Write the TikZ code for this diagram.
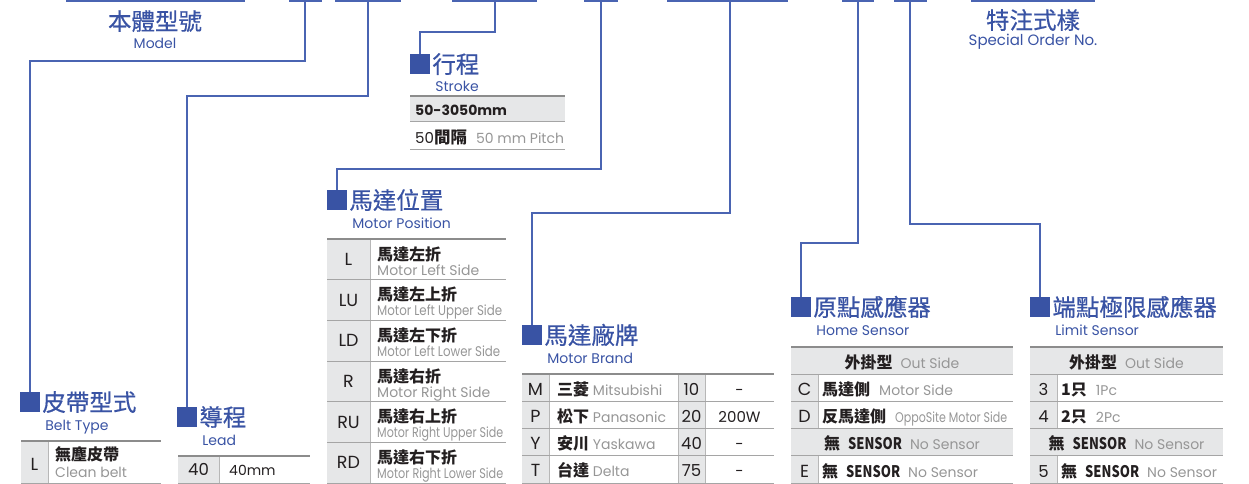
\documentclass[tikz,border=0pt]{standalone}
\usepackage{fontspec}
\usepackage{graphicx}
\setmainfont{Poppins}
\newfontfamily\cjk{Noto Sans CJK TC}
\newfontfamily\cjkmid[FakeBold=0.6]{Noto Sans CJK TC}
\usetikzlibrary{positioning}

\definecolor{titleblue}{RGB}{57,83,164}
\definecolor{linkblue}{RGB}{74,100,178}
\definecolor{cellgray}{RGB}{230,231,232}
\definecolor{rulegray}{RGB}{165,165,165}
\definecolor{engray}{RGB}{150,150,150}
\definecolor{ink}{RGB}{35,31,32}

\newcommand{\zhb}[1]{{\cjk\bfseries #1}}
\newcommand{\engr}[1]{{\color{engray}#1}}
\newcommand{\narrowto}[2]{\resizebox{#1}{\height}{#2}}

\begin{document}
\begin{tikzpicture}[
  x=1pt, y=-1pt,
  topbar/.style={line width=1.8pt, draw=linkblue},
  link/.style={line width=1.2pt, draw=linkblue},
  sq/.style={rectangle, fill=titleblue, minimum size=20pt, inner sep=0pt},
  ttl/.style={anchor=base west, inner sep=0pt, text=titleblue,
              font=\cjkmid\fontsize{23.5}{25}\selectfont},
  sub/.style={anchor=base west, inner sep=0pt, text=titleblue,
              font=\fontsize{14}{16}\selectfont},
  toprule/.style={line width=1.6pt, draw=rulegray!85!black},
  rowrule/.style={line width=1pt, draw=rulegray},
  vrule/.style={line width=1pt, draw=rulegray!80},
  cell/.style={fill=cellgray},
  code/.style={anchor=base, inner sep=0pt, text=ink,
               font=\fontsize{17.5}{19}\selectfont},
  num/.style={anchor=base, inner sep=0pt, text=ink,
              font=\fontsize{16.5}{18}\selectfont},
  item/.style={anchor=base west, inner sep=0pt, text=ink,
               font=\fontsize{14}{16}\selectfont},
  zhitem/.style={anchor=base west, inner sep=0pt, text=ink,
                 font=\cjk\bfseries\fontsize{16}{18}\selectfont}
]
\useasboundingbox (0,0) rectangle (1249,484);

%% ---- TOP BARS and drop points ----
\foreach \a/\b in {66/245, 289/322, 335/401, 452/537, 584/618,
                   667/788, 842/874, 894/927, 971/1095}
  \draw[topbar] (\a,0.9) -- (\b,0.9);
\coordinate (dBelt)   at (305,0);
\coordinate (dLead)   at (368,0);
\coordinate (dStroke) at (495,0);
\coordinate (dPos)    at (601,0);
\coordinate (dBrand)  at (730,0);
\coordinate (dHome)   at (858,0);
\coordinate (dLimit)  at (910,0);

\node[ttl, anchor=base] (tModel) at (155,30) {本體型號};
\node[sub, anchor=base] (sModel) at (155,49) {Model};
\node[ttl, anchor=base] (tSpecial) at (1033,29) {特注式樣};
\node[sub, anchor=base, font=\fontsize{15}{17}\selectfont] (sSpecial) at (1033,46) {Special Order No.};

%% ---- SQUARES and titles ----
\node[sq] (sqBelt)   at (30,402)   {};
\node[sq] (sqLead)   at (187,417)  {};
\node[sq] (sqStroke) at (420,64)   {};
\node[sq] (sqPos)    at (337,200)  {};
\node[sq] (sqBrand)  at (532,335)  {};
\node[sq] (sqHome)   at (801,307)  {};
\node[sq] (sqLimit)  at (1040,307) {};

\foreach \s/\z/\e in {Belt/皮帶型式/Belt Type, Lead/導程/Lead, Stroke/行程/Stroke,
                      Pos/馬達位置/Motor Position, Brand/馬達廠牌/Motor Brand,
                      Home/原點感應器/Home Sensor, Limit/端點極限感應器/Limit Sensor}{
  \node[ttl] (t\s) at ([shift={(2,9)}]sq\s.east) {\z};
  \node[sub] (s\s) at ([shift={(5,28)}]sq\s.east) {\e};
}

%% ---- CONNECTORS ----
\draw[link] (dBelt)   -- ++(0,61)  -| (sqBelt.north);
\draw[link] (dLead)   -- ++(0,96)  -| (sqLead.north);
\draw[link] (dStroke) -- ++(0,32)  -| (sqStroke.north);
\draw[link] (dPos)    -- ++(0,169) -| (sqPos.north);
\draw[link] (dBrand)  -- ++(0,213) -| (sqBrand.north);
\draw[link] (dHome)   -- ++(0,243) -| (sqHome.north);
\draw[link] (dLimit)  -- ++(0,224) -| (sqLimit.north);

%% ---- BELT TYPE table ----
\fill[cell] (21,441) rectangle (48,483);
\draw[vrule] (48,441) -- (48,483);
\draw[toprule] (21,441) -- (161,441);
\draw[rowrule] (21,483) -- (161,483);
\node[code] (bL) at (34.5,470) {L};
\node[zhitem] (bZh) at (55,460) {無塵皮帶};
\node[item, text=engray] (bEn) at (55,477) {Clean belt};

%% ---- LEAD table ----
\fill[cell] (178,456) rectangle (219,483);
\draw[vrule] (219,456) -- (219,483);
\draw[toprule] (178,456) -- (310,456);
\draw[rowrule] (178,483) -- (310,483);
\node[num] (l40) at (198.5,475) {40};
\node[item] (l40mm) at (229,475) {40mm};

%% ---- STROKE table ----
\fill[cell] (410,96) rectangle (565,122);
\draw[toprule] (410,96) -- (565,96);
\draw[rowrule] (410,122) -- (565,122);
\draw[rowrule] (410,149) -- (565,149);
\node[item, font=\bfseries\fontsize{14}{16}\selectfont] (st1) at (415,116) {50-3050mm};
\node[item, font=\fontsize{15}{17}\selectfont] (st2) at (415,143)
     {50\zhb{\fontsize{16.5}{18}\selectfont 間隔}\hspace{9pt}\engr{\fontsize{14}{16}\selectfont 50 mm Pitch}};

%% ---- MOTOR POSITION table ----
\fill[cell] (327,239) rectangle (370,483);
\draw[vrule] (370,239) -- (370,483);
\draw[toprule] (327,239) -- (506,239);
\foreach \c/\z/\e [count=\i from 0] in {
    L/馬達左折/{Motor Left Side},
    LU/馬達左上折/{\narrowto{125pt}{Motor Left Upper Side}},
    LD/馬達左下折/{\narrowto{123pt}{Motor Left Lower Side}},
    R/馬達右折/{Motor Right Side},
    RU/馬達右上折/{\narrowto{126pt}{Motor Right Upper Side}},
    RD/馬達右下折/{\narrowto{126pt}{Motor Right Lower Side}}}{
  \pgfmathsetmacro{\ry}{239+40.67*\i}
  \draw[rowrule] (327,\ry+40.67) -- (506,\ry+40.67);
  \node[code] (pc\i) at (348.5,\ry+26.5) {\c};
  \node[zhitem] (pz\i) at (377,\ry+21) {\z};
  \node[item, text=engray] (pe\i) at (377,\ry+36) {\e};
}

%% ---- MOTOR BRAND table ----
\fill[cell] (522,374) rectangle (549,483);
\fill[cell] (678,374) rectangle (705,483);
\foreach \vx in {549,678,705} \draw[vrule] (\vx,374) -- (\vx,483);
\draw[toprule] (522,374) -- (774,374);
\foreach \c/\z/\e/\n/\w [count=\i from 0] in {
    M/三菱/Mitsubishi/10/-, P/松下/Panasonic/20/200W,
    Y/安川/Yaskawa/40/-, T/台達/Delta/75/-}{
  \pgfmathsetmacro{\ry}{374+27.25*\i}
  \draw[rowrule] (522,\ry+27.25) -- (774,\ry+27.25);
  \node[code] (mc\i) at (535.5,\ry+21) {\c};
  \node[item] (mn\i) at (557,\ry+21) {\zhb{\fontsize{16}{18}\selectfont\z} \engr{\e}};
  \node[num] (mk\i) at (691.5,\ry+21) {\n};
  \node[num, font=\fontsize{15}{17}\selectfont] (mw\i) at (739.5,\ry+21) {\w};
}

%% ---- HOME SENSOR table ----
\fill[cell] (791,347) rectangle (1013,374.2);
\fill[cell] (791,428.6) rectangle (1013,455.8);
\fill[cell] (791,374.2) rectangle (818,428.6);
\fill[cell] (791,455.8) rectangle (818,483);
\draw[vrule] (818,374.2) -- (818,428.6);
\draw[vrule] (818,455.8) -- (818,483);
\draw[toprule] (791,347) -- (1013,347);
\foreach \y in {374.2,401.4,428.6,455.8,483} \draw[rowrule] (791,\y) -- (1013,\y);
\node[item, anchor=base] (h1) at (902,368)
     {\zhb{\fontsize{16}{18}\selectfont 外掛型}\hspace{8pt}\engr{Out Side}};
\node[code] (hC) at (804.5,395.5) {C};
\node[item] (h2) at (822,395.5)
     {\zhb{\fontsize{16}{18}\selectfont 馬達側}\hspace{9pt}\engr{Motor Side}};
\node[code] (hD) at (804.5,422.7) {D};
\node[item] (h3) at (822,422.7)
     {\zhb{\fontsize{16}{18}\selectfont 反馬達側}\hspace{9pt}\engr{\narrowto{112pt}{OppoSite Motor Side}}};
\node[item, anchor=base] (h4) at (902,449.9)
     {\zhb{\fontsize{16}{18}\selectfont 無\hspace{8pt}\narrowto{54pt}{SENSOR}}\hspace{8pt}\engr{No Sensor}};
\node[code] (hE) at (804.5,477.1) {E};
\node[item] (h5) at (822,477.1)
     {\zhb{\fontsize{16}{18}\selectfont 無\hspace{8pt}\narrowto{54pt}{SENSOR}}\hspace{8pt}\engr{No Sensor}};

%% ---- LIMIT SENSOR table ----
\fill[cell] (1030,347) rectangle (1223,374.2);
\fill[cell] (1030,428.6) rectangle (1223,455.8);
\fill[cell] (1030,374.2) rectangle (1057,428.6);
\fill[cell] (1030,455.8) rectangle (1057,483);
\draw[vrule] (1057,374.2) -- (1057,428.6);
\draw[vrule] (1057,455.8) -- (1057,483);
\draw[toprule] (1030,347) -- (1223,347);
\foreach \y in {374.2,401.4,428.6,455.8,483} \draw[rowrule] (1030,\y) -- (1223,\y);
\node[item, anchor=base] (g1) at (1126.5,368)
     {\zhb{\fontsize{16}{18}\selectfont 外掛型}\hspace{8pt}\engr{Out Side}};
\node[num] (g3) at (1043.5,395.5) {3};
\node[item] (g2) at (1061,395.5)
     {\zhb{\fontsize{16}{18}\selectfont 1只}\hspace{9pt}\engr{1Pc}};
\node[num] (g4) at (1043.5,422.7) {4};
\node[item] (g3t) at (1061,422.7)
     {\zhb{\fontsize{16}{18}\selectfont 2只}\hspace{9pt}\engr{2Pc}};
\node[item, anchor=base] (g4t) at (1126.5,449.9)
     {\zhb{\fontsize{16}{18}\selectfont 無\hspace{8pt}\narrowto{54pt}{SENSOR}}\hspace{8pt}\engr{No Sensor}};
\node[num] (g5) at (1043.5,477.1) {5};
\node[item] (g5t) at (1061,477.1)
     {\zhb{\fontsize{16}{18}\selectfont 無\hspace{8pt}\narrowto{54pt}{SENSOR}}\hspace{8pt}\engr{No Sensor}};

\end{tikzpicture}
\end{document}
